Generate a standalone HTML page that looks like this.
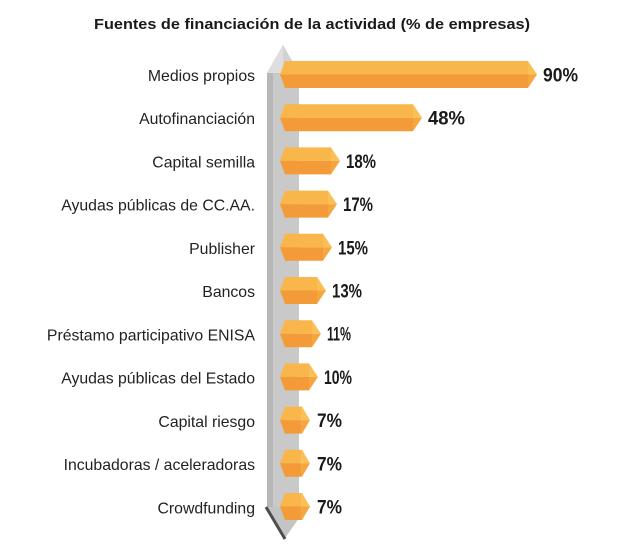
<!DOCTYPE html>
<html><head><meta charset="utf-8"><style>
html,body{margin:0;padding:0;background:#fff;}
svg{display:block;}
</style></head><body>
<svg width="640" height="557" viewBox="0 0 640 557" xmlns="http://www.w3.org/2000/svg">
<rect width="640" height="557" fill="#fff"/>
<text x="94" y="29" font-family="Liberation Sans, sans-serif" font-weight="bold" font-size="15" fill="#1a1a1a" textLength="436" lengthAdjust="spacingAndGlyphs">Fuentes de financiación de la actividad (% de empresas)</text>

<!-- post -->
<polygon points="267,73 283,45 299,73 299,518 285,538 267,507" fill="#c9c9c9"/>
<polygon points="267,73 283,45 283,73" fill="#dedede"/>
<polygon points="283,45 299,73 283,73" fill="#d2d2d2"/>
<rect x="267" y="73" width="6" height="434" fill="#b7b7b7"/>
<polygon points="267,507 285,538 299,518 299,507" fill="#c4c4c4"/>
<polyline points="266,507 285,539" stroke="#4d4d4d" stroke-width="3" fill="none"/>

<g font-family="Liberation Sans, sans-serif" font-size="15.8" fill="#222" text-anchor="end">
<text x="255" y="81">Medios propios</text>
<text x="255" y="124">Autofinanciación</text>
<text x="255" y="167.5">Capital semilla</text>
<text x="255" y="210.5">Ayudas públicas de CC.AA.</text>
<text x="255" y="254">Publisher</text>
<text x="255" y="297">Bancos</text>
<text x="255" y="340.5">Préstamo participativo ENISA</text>
<text x="255" y="383.5">Ayudas públicas del Estado</text>
<text x="255" y="427">Capital riesgo</text>
<text x="255" y="470">Incubadoras / aceleradoras</text>
<text x="255" y="513.5">Crowdfunding</text>
</g>

<g font-family="Liberation Sans, sans-serif" font-weight="bold" font-size="19" fill="#1a1a1a">
<!-- 90 -->
<g transform="translate(0,74.5)">
<polygon points="280,0 285,-13.5 528,-13.5 528,0" fill="#f9b64b"/>
<polygon points="280,0 528,0 528,13.5 285,13.5" fill="#f39b38"/>
<polygon points="528,-13.5 537,0 528,0" fill="#fbc055"/>
<polygon points="528,0 537,0 528,13.5" fill="#f5a63f"/>
<text x="543" y="7" textLength="35" lengthAdjust="spacingAndGlyphs">90%</text>
</g>
<!-- 48 -->
<g transform="translate(0,117.7)">
<polygon points="280,0 285,-13.5 413,-13.5 413,0" fill="#f9b64b"/>
<polygon points="280,0 413,0 413,13.5 285,13.5" fill="#f39b38"/>
<polygon points="413,-13.5 422,0 413,0" fill="#fbc055"/>
<polygon points="413,0 422,0 413,13.5" fill="#f5a63f"/>
<text x="428" y="7" textLength="37" lengthAdjust="spacingAndGlyphs">48%</text>
</g>
<!-- 18 -->
<g transform="translate(0,160.9)">
<polygon points="280,0 285,-13.5 331,-13.5 331,0" fill="#f9b64b"/>
<polygon points="280,0 331,0 331,13.5 285,13.5" fill="#f39b38"/>
<polygon points="331,-13.5 340,0 331,0" fill="#fbc055"/>
<polygon points="331,0 340,0 331,13.5" fill="#f5a63f"/>
<text x="346" y="7" textLength="30" lengthAdjust="spacingAndGlyphs">18%</text>
</g>
<!-- 17 -->
<g transform="translate(0,204.1)">
<polygon points="280,0 285,-13.5 328,-13.5 328,0" fill="#f9b64b"/>
<polygon points="280,0 328,0 328,13.5 285,13.5" fill="#f39b38"/>
<polygon points="328,-13.5 337,0 328,0" fill="#fbc055"/>
<polygon points="328,0 337,0 328,13.5" fill="#f5a63f"/>
<text x="343" y="7" textLength="30" lengthAdjust="spacingAndGlyphs">17%</text>
</g>
<!-- 15 -->
<g transform="translate(0,247.3)">
<polygon points="280,0 285,-13.5 323,-13.5 323,0" fill="#f9b64b"/>
<polygon points="280,0 323,0 323,13.5 285,13.5" fill="#f39b38"/>
<polygon points="323,-13.5 332,0 323,0" fill="#fbc055"/>
<polygon points="323,0 332,0 323,13.5" fill="#f5a63f"/>
<text x="338" y="7" textLength="30" lengthAdjust="spacingAndGlyphs">15%</text>
</g>
<!-- 13 -->
<g transform="translate(0,290.5)">
<polygon points="280,0 285,-13.5 317,-13.5 317,0" fill="#f9b64b"/>
<polygon points="280,0 317,0 317,13.5 285,13.5" fill="#f39b38"/>
<polygon points="317,-13.5 326,0 317,0" fill="#fbc055"/>
<polygon points="317,0 326,0 317,13.5" fill="#f5a63f"/>
<text x="332" y="7" textLength="30" lengthAdjust="spacingAndGlyphs">13%</text>
</g>
<!-- 11 -->
<g transform="translate(0,333.7)">
<polygon points="280,0 285,-13.5 312,-13.5 312,0" fill="#f9b64b"/>
<polygon points="280,0 312,0 312,13.5 285,13.5" fill="#f39b38"/>
<polygon points="312,-13.5 321,0 312,0" fill="#fbc055"/>
<polygon points="312,0 321,0 312,13.5" fill="#f5a63f"/>
<text x="327" y="7" textLength="24" lengthAdjust="spacingAndGlyphs">11%</text>
</g>
<!-- 10 -->
<g transform="translate(0,376.9)">
<polygon points="280,0 285,-13.5 309,-13.5 309,0" fill="#f9b64b"/>
<polygon points="280,0 309,0 309,13.5 285,13.5" fill="#f39b38"/>
<polygon points="309,-13.5 318,0 309,0" fill="#fbc055"/>
<polygon points="309,0 318,0 309,13.5" fill="#f5a63f"/>
<text x="324" y="7" textLength="28" lengthAdjust="spacingAndGlyphs">10%</text>
</g>
<!-- 7 -->
<g transform="translate(0,420.1)">
<polygon points="280,0 285,-13.5 302,-13.5 301,0" fill="#f9b64b"/>
<polygon points="280,0 301,0 302,13.5 285,13.5" fill="#f39b38"/>
<polygon points="302,-13.5 310,0 301,0" fill="#fbc055"/>
<polygon points="301,0 310,0 302,13.5" fill="#f5a63f"/>
<text x="317" y="7" textLength="25" lengthAdjust="spacingAndGlyphs">7%</text>
</g>
<!-- 7 -->
<g transform="translate(0,463.3)">
<polygon points="280,0 285,-13.5 302,-13.5 301,0" fill="#f9b64b"/>
<polygon points="280,0 301,0 302,13.5 285,13.5" fill="#f39b38"/>
<polygon points="302,-13.5 310,0 301,0" fill="#fbc055"/>
<polygon points="301,0 310,0 302,13.5" fill="#f5a63f"/>
<text x="317" y="7" textLength="25" lengthAdjust="spacingAndGlyphs">7%</text>
</g>
<!-- 7 -->
<g transform="translate(0,506.5)">
<polygon points="280,0 285,-13.5 302,-13.5 301,0" fill="#f9b64b"/>
<polygon points="280,0 301,0 302,13.5 285,13.5" fill="#f39b38"/>
<polygon points="302,-13.5 310,0 301,0" fill="#fbc055"/>
<polygon points="301,0 310,0 302,13.5" fill="#f5a63f"/>
<text x="317" y="7" textLength="25" lengthAdjust="spacingAndGlyphs">7%</text>
</g>
</g>
</svg>
</body></html>
